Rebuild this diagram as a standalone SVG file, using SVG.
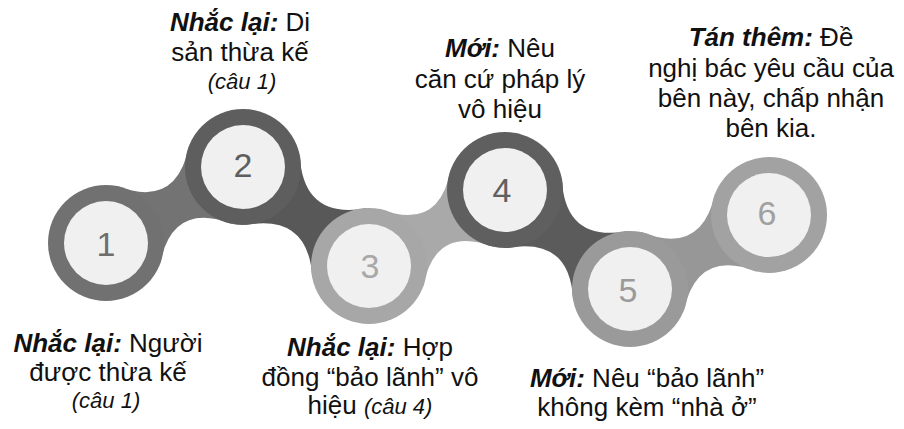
<svg xmlns="http://www.w3.org/2000/svg" width="904" height="429" viewBox="0 0 904 429">
<style>
.t{font-family:"Liberation Sans",Arial,sans-serif;font-size:26px;fill:#111;text-anchor:middle}
.b{font-weight:bold;font-style:italic}
.s{font-style:italic;font-size:22px}
.num{font-family:"Liberation Sans",Arial,sans-serif;font-size:34px;text-anchor:middle}
.inner{fill:#f0f0f0}
</style>
<rect width="904" height="429" fill="#ffffff"/>
<g id="connectors">
<path d="M117.1,186.1 Q176.6,208.8 188.9,146.3 L231.9,223.9 Q172.4,201.2 160.1,263.7 Z" fill="#737373"/>
<path d="M299.7,155.2 Q303.3,220.0 367.1,208.0 L312.3,277.8 Q308.7,213.0 244.9,225.0 Z" fill="#585858"/>
<path d="M379.9,209.0 Q439.1,231.8 450.7,169.4 L494.1,247.0 Q434.9,224.2 423.3,286.6 Z" fill="#a9a9a9"/>
<path d="M561.8,178.4 Q564.8,242.9 628.4,231.0 L573.2,300.6 Q570.2,236.1 506.6,248.0 Z" fill="#5b5b5b"/>
<path d="M642.0,232.3 Q701.6,255.9 715.2,193.3 L757.0,271.7 Q697.4,248.1 683.8,310.7 Z" fill="#979797"/>
</g>
<g id="node1">
<circle cx="106" cy="243" r="58" fill="#717171"/>
<circle class="inner" cx="106" cy="243" r="42"/>
<text class="num" x="106" y="256" fill="#6e6e6e">1</text>
</g>
<g id="node2">
<circle cx="243" cy="167" r="58" fill="#5e5e5e"/>
<circle class="inner" cx="243" cy="167" r="42"/>
<text class="num" x="243" y="177" fill="#5e5e5e">2</text>
</g>
<g id="node3">
<circle cx="369" cy="266" r="58" fill="#a7a7a7"/>
<circle class="inner" cx="369" cy="266" r="42"/>
<text class="num" x="370" y="278" fill="#a8a8a8">3</text>
</g>
<g id="node4">
<circle cx="505" cy="190" r="58" fill="#5f5f5f"/>
<circle class="inner" cx="505" cy="190" r="42"/>
<text class="num" x="502" y="202" fill="#606060">4</text>
</g>
<g id="node5">
<circle cx="630" cy="289" r="58" fill="#9a9a9a"/>
<circle class="inner" cx="630" cy="289" r="42"/>
<text class="num" x="628" y="302" fill="#9a9a9a">5</text>
</g>
<g id="node6">
<circle cx="769" cy="215" r="58" fill="#a2a2a2"/>
<circle class="inner" cx="769" cy="215" r="42"/>
<text class="num" x="767" y="225" fill="#a0a0a0">6</text>
</g>
<g id="label1">
<text class="t" x="108" y="352"><tspan class="b">Nhắc lại:</tspan> Người</text>
<text class="t" x="108" y="381">được thừa kế</text>
<text class="t s" x="106" y="408">(câu 1)</text>
</g>
<g id="label2">
<text class="t" x="240" y="31"><tspan class="b">Nhắc lại:</tspan> Di</text>
<text class="t" x="240" y="61">sản thừa kế</text>
<text class="t s" x="242" y="89">(câu 1)</text>
</g>
<g id="label3">
<text class="t" x="370" y="356"><tspan class="b">Nhắc lại:</tspan> Hợp</text>
<text class="t" x="370" y="386">đồng “bảo lãnh” vô</text>
<text class="t" x="370" y="414">hiệu <tspan class="s">(câu 4)</tspan></text>
</g>
<g id="label4">
<text class="t" x="500" y="57"><tspan class="b">Mới:</tspan> Nêu</text>
<text class="t" x="500" y="88">căn cứ pháp lý</text>
<text class="t" x="500" y="118">vô hiệu</text>
</g>
<g id="label5">
<text class="t" x="647" y="387"><tspan class="b">Mới:</tspan> Nêu “bảo lãnh”</text>
<text class="t" x="647" y="416">không kèm “nhà ở”</text>
</g>
<g id="label6">
<text class="t" x="771" y="46"><tspan class="b">Tán thêm:</tspan> Đề</text>
<text class="t" x="771" y="77">nghị bác yêu cầu của</text>
<text class="t" x="771" y="107">bên này, chấp nhận</text>
<text class="t" x="771" y="137">bên kia.</text>
</g>
</svg>
